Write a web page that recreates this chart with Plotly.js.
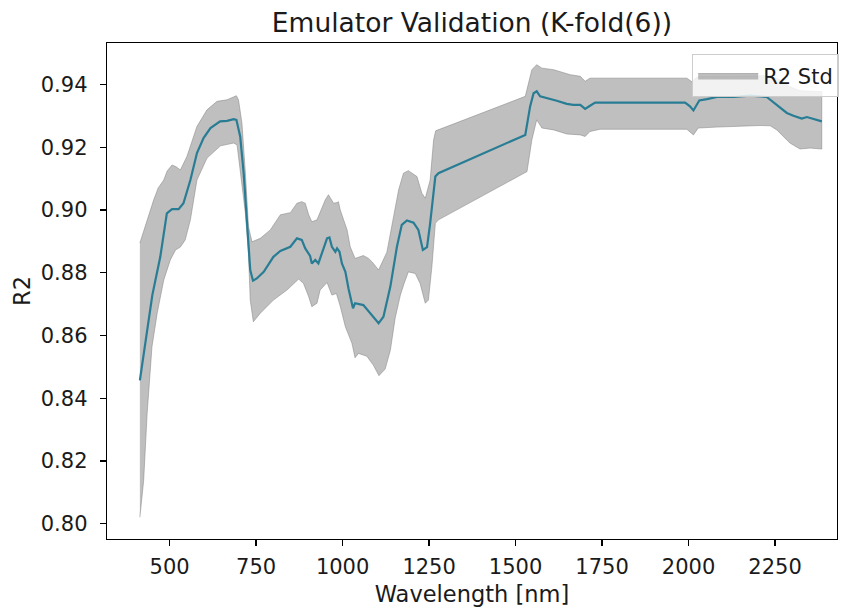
<!DOCTYPE html>
<html>
<head>
<meta charset="utf-8">
<script src="https://cdn.plot.ly/plotly-3.0.1.min.js"></script>
<style>html,body{margin:0;padding:0;background:#fff;}#chart{width:851px;height:612px;}</style>
</head>
<body>
<div id="chart"></div>
<script>
// Mean R2 curve
const wlMean = [414,435,450,473,492,507,526,540,560,579,598,618,646,666,685,693,704,714,724,733,741,752,772,800,820,849,868,882,892,906,911,921,930,943,955,962,969,979,984,991,998,1008,1017,1030,1036,1060,1080,1104,1118,1138,1157,1171,1186,1205,1219,1232,1244,1253,1268,1277,1528,1542,1552,1561,1571,1590,1619,1648,1667,1687,1701,1715,1730,1990,2004,2014,2031,2053,2082,2130,2178,2226,2255,2284,2303,2327,2342,2361,2385];
const r2Mean = [0.8457,0.8617,0.8729,0.8851,0.8990,0.9003,0.9003,0.9022,0.9096,0.9182,0.9230,0.9262,0.9283,0.9285,0.9290,0.9288,0.9235,0.9118,0.8947,0.8809,0.8775,0.8782,0.8803,0.8851,0.8870,0.8883,0.8910,0.8905,0.8878,0.8854,0.8830,0.8841,0.8830,0.8873,0.8910,0.8913,0.8883,0.8867,0.8878,0.8867,0.8830,0.8803,0.8750,0.8687,0.8703,0.8697,0.8671,0.8639,0.8660,0.8756,0.8883,0.8953,0.8967,0.8960,0.8937,0.8873,0.8882,0.8958,0.9107,0.9118,0.9240,0.9331,0.9373,0.9379,0.9363,0.9358,0.9349,0.9339,0.9336,0.9336,0.9323,0.9333,0.9343,0.9343,0.9331,0.9318,0.9350,0.9354,0.9361,0.9361,0.9365,0.9361,0.9336,0.9310,0.9301,0.9292,0.9297,0.9291,0.9283];

// Upper bound (mean + std)
const wlUp = [414,430,454,467,483,493,507,519,531,550,579,608,637,666,685,693,699,709,719,728,738,762,791,820,849,868,882,892,902,911,926,935,950,959,969,974,984,988,993,1013,1022,1036,1060,1075,1086,1104,1128,1147,1162,1176,1190,1215,1229,1239,1253,1263,1269,1528,1547,1561,1576,1610,1658,1687,1701,1715,1995,2009,2027,2236,2264,2293,2322,2385];
const r2Up = [0.8895,0.8953,0.9033,0.9071,0.9096,0.9125,0.9144,0.9138,0.9128,0.9171,0.9267,0.9320,0.9347,0.9352,0.9361,0.9365,0.9352,0.9278,0.9118,0.8947,0.8899,0.8910,0.8937,0.8985,0.8992,0.9022,0.9027,0.9022,0.8985,0.8963,0.8969,0.8995,0.9033,0.9049,0.9033,0.9022,0.9024,0.9027,0.9001,0.8937,0.8883,0.8846,0.8855,0.8846,0.8834,0.8809,0.8866,0.8981,0.9065,0.9118,0.9126,0.9107,0.9054,0.9038,0.9096,0.9224,0.9253,0.9363,0.9448,0.9464,0.9453,0.9448,0.9432,0.9427,0.9411,0.9421,0.9421,0.9410,0.9426,0.9429,0.9416,0.9394,0.9381,0.9378];

// Lower bound (mean - std)
const wlLo = [414,425,435,449,464,483,502,517,531,545,560,579,608,647,685,695,704,719,728,733,742,762,800,839,873,887,902,911,926,935,955,969,982,993,1008,1027,1036,1046,1070,1089,1105,1123,1138,1152,1167,1178,1190,1210,1224,1239,1248,1258,1268,1277,1533,1547,1561,1576,1610,1648,1687,1701,1715,1744,1995,2014,2028,2082,2207,2236,2255,2293,2322,2351,2385];
const r2Lo = [0.8020,0.8138,0.8351,0.8564,0.8671,0.8777,0.8841,0.8873,0.8882,0.8905,0.8969,0.9096,0.9166,0.9205,0.9214,0.9208,0.9139,0.8990,0.8862,0.8713,0.8644,0.8671,0.8713,0.8745,0.8780,0.8766,0.8724,0.8692,0.8703,0.8745,0.8769,0.8729,0.8734,0.8694,0.8628,0.8575,0.8529,0.8543,0.8534,0.8505,0.8472,0.8493,0.8553,0.8656,0.8729,0.8767,0.8803,0.8798,0.8766,0.8703,0.8713,0.8819,0.8958,0.8969,0.9123,0.9224,0.9288,0.9262,0.9256,0.9243,0.9240,0.9235,0.9251,0.9258,0.9258,0.9240,0.9262,0.9265,0.9270,0.9269,0.9256,0.9214,0.9195,0.9198,0.9195];

const xTicks = [500,750,1000,1250,1500,1750,2000,2250];
const yTicks = [0.80,0.82,0.84,0.86,0.88,0.90,0.92,0.94];

const bandX = wlUp.concat(wlLo.slice().reverse());
const bandY = r2Up.concat(r2Lo.slice().reverse());

const FONT = 'DejaVu Sans, sans-serif';
const TXT = '#1a1a1a';

const traces = [
  {
    type: 'scatter', mode: 'lines',
    x: bandX, y: bandY,
    fill: 'toself',
    fillcolor: 'rgba(128,128,128,0.5)',
    line: {color: 'rgba(128,128,128,0.5)', width: 1},
    name: 'R2 Std',
    hoverinfo: 'skip'
  },
  {
    type: 'scatter', mode: 'lines',
    x: wlMean, y: r2Mean,
    line: {color: '#287d95', width: 2.2},
    name: 'R2 Mean',
    showlegend: false
  }
];

const layout = {
  width: 851, height: 612,
  margin: {l: 107, r: 14, t: 43, b: 73, pad: 0},
  paper_bgcolor: '#ffffff', plot_bgcolor: '#ffffff',
  font: {family: FONT, size: 21, color: TXT},
  title: {
    text: 'Emulator Validation (K-fold(6))',
    font: {family: FONT, size: 26.5, color: TXT},
    xref: 'paper', x: 0.5, xanchor: 'center',
    yref: 'container', y: 1 - 23/612, yanchor: 'middle'
  },
  xaxis: {
    range: [319, 2429],
    tickmode: 'array', tickvals: xTicks, ticktext: xTicks.map(String),
    ticks: 'outside', ticklen: 6, tickwidth: 1.3, tickcolor: '#000',
    showline: true, linecolor: '#000', linewidth: 1.3, mirror: true,
    showgrid: false, zeroline: false,
    tickfont: {family: FONT, size: 21, color: TXT},
    ticklabelstandoff: 2,
    title: {text: 'Wavelength [nm]', font: {family: FONT, size: 22.5, color: TXT}, standoff: 8},
    automargin: false
  },
  yaxis: {
    range: [0.79508, 0.95332],
    tickmode: 'array', tickvals: yTicks, ticktext: yTicks.map(v => v.toFixed(2)),
    ticks: 'outside', ticklen: 6, tickwidth: 1.3, tickcolor: '#000',
    showline: true, linecolor: '#000', linewidth: 1.3, mirror: true,
    showgrid: false, zeroline: false,
    tickfont: {family: FONT, size: 21, color: TXT},
    ticklabelstandoff: 8,
    title: {text: 'R2', font: {family: FONT, size: 22.5, color: TXT}, standoff: 4},
    automargin: false
  },
  showlegend: true,
  legend: {
    x: 1.003, xanchor: 'right', y: 0.977, yanchor: 'top',
    bgcolor: 'rgba(255,255,255,0.8)', bordercolor: '#cccccc', borderwidth: 1,
    itemwidth: 60,
    font: {family: FONT, size: 21, color: TXT}
  }
};

Plotly.newPlot('chart', traces, layout, {staticPlot: true, displayModeBar: false});
</script>
</body>
</html>
